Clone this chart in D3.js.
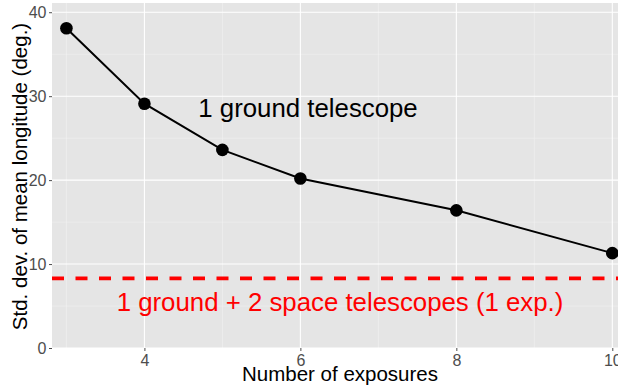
<!DOCTYPE html>
<html><head><meta charset="utf-8">
<script src="https://cdn.jsdelivr.net/npm/d3@7"></script>
<style>body{margin:0;background:#fff}svg{display:block}text{font-family:"Liberation Sans",Arial,sans-serif}</style>
</head><body>
<script>
const exposures = [3, 4, 5, 6, 8, 10];
const stdDev = [38.1, 29.1, 23.6, 20.2, 16.4, 11.3];
const spaceLevel = 8.3;
const xTicks = [4, 6, 8, 10];
const xMinor = [3, 5, 7, 9];
const yTicks = [0, 10, 20, 30, 40];
const yMinor = [5, 15, 25, 35];
const xTitle = "Number of exposures";
const yTitle = "Std. dev. of mean longitude (deg.)";
const groundLabel = "1 ground telescope";
const spaceLabel = "1 ground + 2 space telescopes (1 exp.)";

const W = 618, H = 389;
const svg = d3.select("body").append("svg").attr("width", W).attr("height", H);
const x = d3.scaleLinear().domain([2.815, 10.35]).range([52, 639.6]);
const y = d3.scaleLinear().domain([0, 41.1]).range([348, 3]);

svg.append("rect").attr("x", x.range()[0]).attr("y", y.range()[1])
  .attr("width", x.range()[1] - x.range()[0]).attr("height", y.range()[0] - y.range()[1])
  .attr("fill", "#E5E5E5");

const g = svg.append("g");
g.selectAll(".ymin").data(yMinor).join("line")
  .attr("x1", x.range()[0]).attr("x2", x.range()[1]).attr("y1", d => y(d)).attr("y2", d => y(d))
  .attr("stroke", "#F2F2F2").attr("stroke-width", 0.6);
g.selectAll(".xmin").data(xMinor).join("line")
  .attr("y1", y.range()[0]).attr("y2", y.range()[1]).attr("x1", d => x(d)).attr("x2", d => x(d))
  .attr("stroke", "#F2F2F2").attr("stroke-width", 0.6);
g.selectAll(".ymaj").data(yTicks).join("line")
  .attr("x1", x.range()[0]).attr("x2", x.range()[1]).attr("y1", d => y(d)).attr("y2", d => y(d))
  .attr("stroke", "#FFFFFF").attr("stroke-width", 1.1);
g.selectAll(".xmaj").data(xTicks).join("line")
  .attr("y1", y.range()[0]).attr("y2", y.range()[1]).attr("x1", d => x(d)).attr("x2", d => x(d))
  .attr("stroke", "#FFFFFF").attr("stroke-width", 1.1);

// axes
const xAxis = svg.append("g").attr("transform", `translate(0,${y.range()[0]})`)
  .call(d3.axisBottom(x).tickValues(xTicks).tickSize(3).tickPadding(3.5));
const yAxis = svg.append("g").attr("transform", `translate(${x.range()[0]},0)`)
  .call(d3.axisLeft(y).tickValues(yTicks).tickSize(3).tickPadding(2.5));
[xAxis, yAxis].forEach(a => {
  a.select(".domain").remove();
  a.selectAll(".tick line").attr("stroke", "#4D4D4D").attr("stroke-width", 1);
  a.selectAll(".tick text").attr("fill", "#4D4D4D").style("font-size", "16px")
    .style("font-family", '"Liberation Sans", Arial, sans-serif');
});

// dashed reference line
svg.append("line").attr("x1", x.range()[0]).attr("x2", W)
  .attr("y1", y(spaceLevel)).attr("y2", y(spaceLevel))
  .attr("stroke", "#FF0000").attr("stroke-width", 3.6).attr("stroke-dasharray", "12,11.5");

// line + points
const line = d3.line().x((d, i) => x(exposures[i])).y(d => y(d));
svg.append("path").datum(stdDev).attr("d", line).attr("fill", "none")
  .attr("stroke", "#000").attr("stroke-width", 2);
svg.selectAll(".pt").data(stdDev).join("circle")
  .attr("cx", (d, i) => x(exposures[i])).attr("cy", d => y(d)).attr("r", 6.3).attr("fill", "#000");

// annotations
svg.append("text").attr("x", 308).attr("y", 117).attr("text-anchor", "middle")
  .style("font-size", "25.8px").attr("fill", "#000").text(groundLabel);
svg.append("text").attr("x", 340).attr("y", 311).attr("text-anchor", "middle")
  .style("font-size", "25.8px").attr("fill", "#FF0000").text(spaceLabel);

// titles
svg.append("text").attr("x", 340).attr("y", 381).attr("text-anchor", "middle")
  .style("font-size", "20.5px").attr("fill", "#000").text(xTitle);
svg.append("text").attr("transform", "translate(27,176.5) rotate(-90)").attr("text-anchor", "middle")
  .style("font-size", "20.5px").attr("fill", "#000").text(yTitle);
</script>
</body></html>
